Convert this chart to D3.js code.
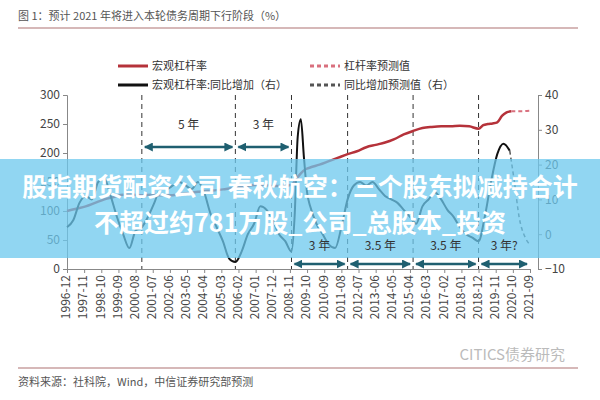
<!DOCTYPE html><html><head><meta charset="utf-8">
<script src="https://cdn.jsdelivr.net/npm/d3@7"></script>
<style>body{margin:0;background:#fff}text{font-family:"Noto Sans CJK SC",sans-serif}</style></head><body>
<script>
const tickLabels=["1996-12","1997-11","1998-10","1999-09","2000-08","2001-07","2002-06","2003-05","2004-04","2005-03","2006-02","2007-01","2007-12","2008-11","2009-10","2010-09","2011-08","2012-07","2013-06","2014-05","2015-04","2016-03","2017-02","2018-01","2018-12","2019-11","2020-10","2021-09"];
const levM=[0,6,12,18,24,30,36,42,48,54,60,66,72,78,84,90,96,102,108,114,120,126,132,138,144,147,150,153,156,162,168,174,180,186,192,198,204,210,216,222,228,234,240,246,252,258,264,267,270,273,276,279,282,285];
const levV=[100,104,108,114,120,124,128,128,127,128,127,127,129,131,133,135,136,138,140,142,145,145,143,143,145,155,165,172,175,180,186,192,198,203,210,214,218,224,232,238,243,245,246,246,247,246,242,248,250,251,253,264,270,272];
const levFM=[285,291,297];const levFV=[272,272,273];
const yoyM=[0,4,8,12,16,20,24,28,32,36,40,44,48,52,56,60,64,68,72,76,80,84,88,92,96,100,104,108,112,116,120,124,128,132,136,140,144,146,148,150,152,154,156,160,164,168,172,176,180,184,188,192,196,200,204,208,212,216,220,224,228,232,236,240,244,248,252,256,260,264,268,272,276,280,284];
const yoyV=[2,4,9,11,10,15,16,11,5,0,-4,1,2,5,9,13,13,14,15,14,13,15,12,6,2,-2,-7,-8,-5,0,3,8,7,4,0,-2,-5,5,28,33,22,12,8,3,0,-3,-4,2,10,14,15,14,15,13,11,10,9,7,5,3,8,10,12,10,7,5,2,0,-1,-2,5,15,23,26,24];
const yoyFM=[284,287,290,294,297];const yoyFV=[24,15,5,-1,-3];
const dashM=[48,108,144,180,222,264];
const topSpans=[[48,108,"5 年"],[108,144,"3 年"]];
const botSpans=[[144,180,"3 年"],[180,222,"3.5 年"],[222,264,"3.5 年"],[264,297,"3 年?"]];
const leftTicks=[0,50,100,150,200,250,300],rightTicks=[-10,0,10,20,30,40];

const svg=d3.select("body").append("svg").attr("width",600).attr("height",400);
const x=d3.scaleLinear().domain([0,297]).range([67,530]);
const yL=d3.scaleLinear().domain([0,300]).range([269,95]);
const yR=d3.scaleLinear().domain([-10,40]).range([269,95]);
const grey="#444";
svg.append("text").attr("x",18).attr("y",20).attr("font-size",11).attr("fill","#555").text("图 1：预计 2021 年将进入本轮债务周期下行阶段（%）");
svg.append("line").attr("x1",18).attr("x2",578).attr("y1",28).attr("y2",28).attr("stroke","#c9a0a0").attr("stroke-width",1.5);
const lg=[[118,66,"#b5323a",null,"宏观杠杆率"],[310,66,"#d9707e","4,3","杠杆率预测值"],[118,85,"#111",null,"宏观杠杆率:同比增加（右）"],[310,85,"#555","4,3","同比增加预测值（右）"]];
lg.forEach(d=>{svg.append("line").attr("x1",d[0]).attr("x2",d[0]+30).attr("y1",d[1]).attr("y2",d[1]).attr("stroke",d[2]).attr("stroke-width",3).attr("stroke-dasharray",d[3]);
svg.append("text").attr("x",d[0]+34).attr("y",d[1]+4).attr("font-size",11).attr("fill","#333").text(d[4]);});
const gL=svg.append("g").attr("transform","translate(67,0)").call(d3.axisLeft(yL).tickValues(leftTicks).tickSize(4));
const gR=svg.append("g").attr("transform","translate(538,0)").call(d3.axisRight(yR).tickValues(rightTicks).tickSize(4));
const gx=svg.append("g").attr("transform","translate(0,269)").call(d3.axisBottom(x).tickValues(d3.range(0,298,11)).tickFormat((d,i)=>tickLabels[i]).tickSize(4));
gx.selectAll("text").attr("transform","rotate(-90)").attr("text-anchor","end").attr("dx","-0.5em").attr("dy","-0.35em").attr("font-size",12);
[gL,gR,gx].forEach(g=>{g.selectAll("path,line").attr("stroke","#888");g.selectAll("text").attr("fill",grey).attr("font-family","Liberation Sans Narrow, sans-serif");});
gL.selectAll("text").attr("font-size",12);gR.selectAll("text").attr("font-size",12);
dashM.forEach(m=>svg.append("line").attr("x1",x(m)).attr("x2",x(m)).attr("y1",95).attr("y2",269).attr("stroke","#333").attr("stroke-dasharray","5,4"));
const L=(ms,vs,y)=>d3.line().x((d,i)=>x(ms[i])).y((d,i)=>y(vs[i])).curve(d3.curveMonotoneX)(vs);
svg.append("path").attr("d",L(levM,levV,yL)).attr("fill","none").attr("stroke","#b5323a").attr("stroke-width",2.5);
svg.append("path").attr("d",L(levFM,levFV,yL)).attr("fill","none").attr("stroke","#d9707e").attr("stroke-width",2).attr("stroke-dasharray","4,3");
svg.append("path").attr("d",L(yoyM,yoyV,yR)).attr("fill","none").attr("stroke","#111").attr("stroke-width",2);
svg.append("path").attr("d",L(yoyFM,yoyFV,yR)).attr("fill","none").attr("stroke","#555").attr("stroke-width",1.5).attr("stroke-dasharray","4,3");
svg.append("defs").html('<marker id="a" markerUnits="userSpaceOnUse" markerWidth="9" markerHeight="9" refX="8" refY="4.5" orient="auto-start-reverse"><path d="M0,0L9,4.5L0,9z" fill="#1f5f70"/></marker>');
function span(s,ya,yt){svg.append("line").attr("x1",x(s[0])+3).attr("x2",x(s[1])-3).attr("y1",ya).attr("y2",ya).attr("stroke","#1f5f70").attr("stroke-width",2.5).attr("marker-start","url(#a)").attr("marker-end","url(#a)");
svg.append("text").attr("x",(x(s[0])+x(s[1]))/2).attr("y",yt).attr("text-anchor","middle").attr("font-size",12).attr("fill","#333").text(s[2]);}
topSpans.forEach(s=>span(s,147,129));
svg.append("rect").attr("x",0).attr("y",159).attr("width",600).attr("height",99).attr("fill","#6cc8ee").attr("opacity",0.75);
botSpans.forEach(s=>span(s,264,250));
svg.append("text").attr("x",300).attr("y",196).attr("text-anchor","middle").attr("font-size",25).attr("font-weight","bold").attr("fill","#fff").text("股指期货配资公司 春秋航空：三个股东拟减持合计");
svg.append("text").attr("x",300).attr("y",232).attr("text-anchor","middle").attr("font-size",25).attr("font-weight","bold").attr("fill","#fff").text("不超过约781万股_公司_总股本_投资");
svg.append("text").attr("x",565).attr("y",360).attr("text-anchor","end").attr("font-size",15).attr("fill","#bbb").text("CITICS债券研究");
svg.append("line").attr("x1",18).attr("x2",578).attr("y1",368).attr("y2",368).attr("stroke","#c9a0a0").attr("stroke-width",1.5);
svg.append("text").attr("x",18).attr("y",386).attr("font-size",11).attr("fill","#555").text("资料来源：社科院，Wind，中信证券研究部预测");
</script></body></html>
